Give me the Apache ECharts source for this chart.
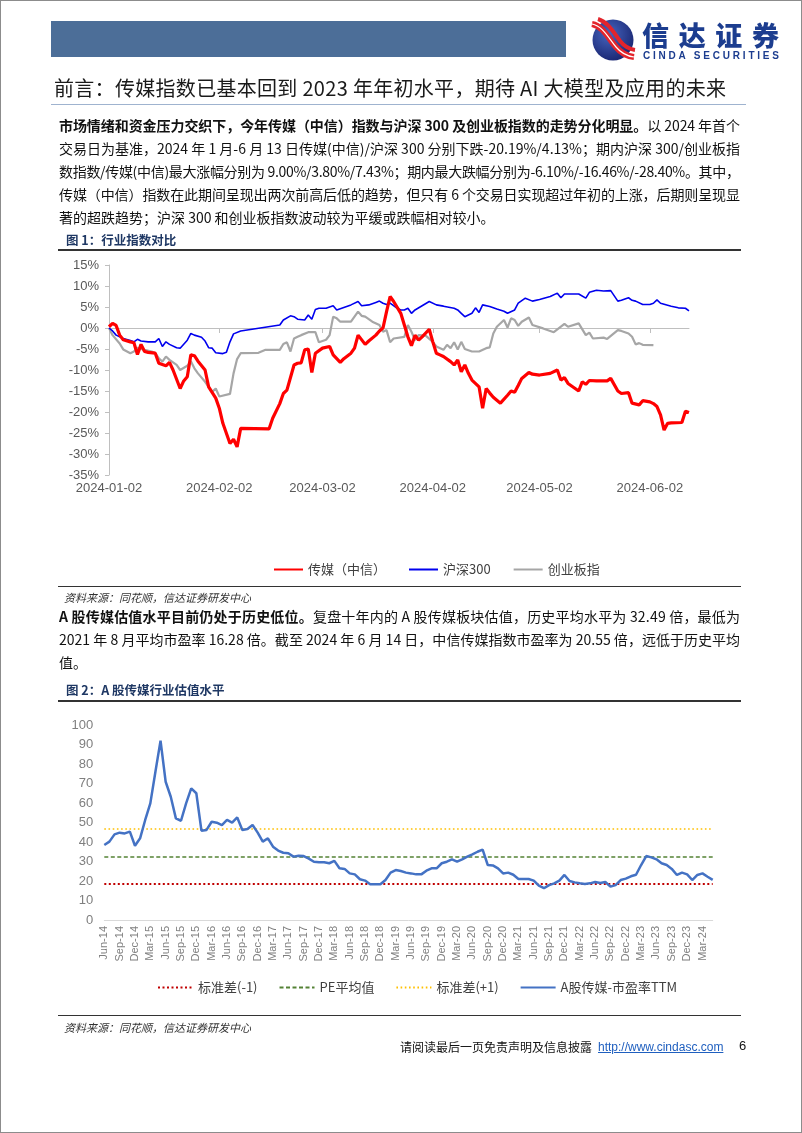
<!DOCTYPE html>
<html><head><meta charset="utf-8">
<script src="https://cdn.jsdelivr.net/npm/echarts@6/dist/echarts.min.js"></script>
<style>
html,body{margin:0;padding:0;background:#fff;}
#page{position:relative;width:802px;height:1133px;overflow:hidden;font-family:"Noto Sans CJK SC","Noto Sans",sans-serif;color:#111;}
#frame{position:absolute;left:0;top:0;width:800px;height:1131px;border:1px solid #8c8c8c;pointer-events:none;z-index:5;}
#chart{position:absolute;left:0;top:0;width:802px;height:1133px;}
.t{position:absolute;white-space:nowrap;}
.ln{position:absolute;left:59px;font-size:14px;line-height:20px;white-space:nowrap;color:#111;}
.rule{position:absolute;left:58px;width:683px;height:1px;background:#333;}
.fig{position:absolute;left:66px;font-size:12.5px;font-weight:700;color:#1f3864;line-height:17px;}
.src{position:absolute;left:64px;font-size:11px;font-style:italic;color:#333;line-height:14px;}
b{font-weight:700;}
</style></head>
<body><div id="page">
<div id="chart"></div>
<div id="frame"></div>
<!-- header -->
<div class="t" style="left:51px;top:21px;width:515px;height:36px;background:#4c6e98;"></div>
<svg class="t" style="left:589px;top:17px" width="48" height="45" viewBox="0 0 48 45">
 <defs><radialGradient id="lg" cx="40%" cy="35%" r="75%"><stop offset="0" stop-color="#4766c0"/><stop offset="1" stop-color="#15206a"/></radialGradient></defs>
 <circle cx="24" cy="23" r="20.5" fill="url(#lg)"/>
 <path d="M3 7 C 14 9, 20 22, 27 30 C 32 36, 37 39, 45 40" stroke="#e3242b" stroke-width="6" fill="none"/>
 <path d="M3 7 C 14 9, 20 22, 27 30 C 32 36, 37 39, 45 40" stroke="#fff" stroke-width="1.2" fill="none"/>
 <path d="M9 2 C 19 5, 25 16, 31 24 C 35 29, 39 32, 46 33" stroke="#e3242b" stroke-width="4" fill="none"/>
</svg>
<div class="t" id="logoCn" style="left:642px;top:20px;font-size:27px;font-weight:900;color:#1c3d8f;line-height:30px;">信达证券</div>
<div class="t" id="logoEn" style="left:643px;top:50px;font-family:'Liberation Sans',Arial,sans-serif;font-size:10px;font-weight:700;color:#1c3d8f;line-height:11px;">CINDA SECURITIES</div>
<!-- title -->
<div class="t" id="title" style="left:54px;top:76px;font-size:20px;line-height:24px;color:#1a1a1a;">前言：传媒指数已基本回到 2023 年年初水平，期待 AI 大模型及应用的未来</div>
<div class="t" style="left:51px;top:104px;width:695px;height:1px;background:#9fb3cf;"></div>
<!-- paragraph 1 -->
<div class="ln fit" style="top:115px"><b>市场情绪和资金压力交织下，今年传媒（中信）指数与沪深 300 及创业板指数的走势分化明显。</b>以 2024 年首个</div>
<div class="ln fit" style="top:138px">交易日为基准，2024 年 1 月-6 月 13 日传媒(中信)/沪深 300 分别下跌-20.19%/4.13%；期内沪深 300/创业板指</div>
<div class="ln fit" style="top:161px">数指数/传媒(中信)最大涨幅分别为 9.00%/3.80%/7.43%；期内最大跌幅分别为-6.10%/-16.46%/-28.40%。其中，</div>
<div class="ln fit" style="top:184px">传媒（中信）指数在此期间呈现出两次前高后低的趋势，但只有 6 个交易日实现超过年初的上涨，后期则呈现显</div>
<div class="ln" style="top:207px">著的超跌趋势；沪深 300 和创业板指数波动较为平缓或跌幅相对较小。</div>
<!-- figure 1 -->
<div class="fig" style="top:231px">图 1：行业指数对比</div>
<div class="rule" style="top:249px;height:1.5px;"></div>
<div class="rule" style="top:586px;"></div>
<div class="src" style="top:590px">资料来源：同花顺，信达证券研发中心</div>
<!-- paragraph 2 -->
<div class="ln fit" style="top:606px"><b>A 股传媒估值水平目前仍处于历史低位。</b>复盘十年内的 A 股传媒板块估值，历史平均水平为 32.49 倍，最低为</div>
<div class="ln fit" style="top:629px">2021 年 8 月平均市盈率 16.28 倍。截至 2024 年 6 月 14 日，中信传媒指数市盈率为 20.55 倍，远低于历史平均</div>
<div class="ln" style="top:652px">值。</div>
<!-- figure 2 -->
<div class="fig" style="top:681px">图 2：A 股传媒行业估值水平</div>
<div class="rule" style="top:700px;height:1.5px;"></div>
<div class="rule" style="top:1015px;"></div>
<div class="src" style="top:1020px">资料来源：同花顺，信达证券研发中心</div>
<!-- footer -->
<div class="t" style="left:400px;top:1039px;font-size:12px;line-height:16px;color:#111;">请阅读最后一页免责声明及信息披露</div>
<div class="t" style="left:598px;top:1039px;font-family:'Liberation Sans',Arial,sans-serif;font-size:12px;line-height:16px;color:#1f5fbf;text-decoration:underline;">http://www.cindasc.com</div>
<div class="t" style="left:739px;top:1038px;font-family:'Liberation Sans',Arial,sans-serif;font-size:13px;line-height:16px;color:#111;">6</div>
</div>
<script>
// ---------- Figure 1 data (percent change vs 2024-01-02) ----------
const fig1TickDates = ['2024-01-02','2024-02-02','2024-03-02','2024-04-02','2024-05-02','2024-06-02'];

const mediaDates = ['01-02','01-03','01-04','01-05','01-06','01-08','01-09','01-10','01-11','01-12','01-13','01-15','01-16','01-18','01-19','01-20','01-22','01-23','01-24','01-25','01-26','01-27','01-29','01-30','02-01','02-02','02-03','02-05','02-06','02-07','02-08','02-16','02-17','02-19','02-20','02-21','02-23','02-24','02-25','02-26','02-27','02-28','02-29','03-02','03-04','03-05','03-07','03-08','03-10','03-11','03-12','03-14','03-15','03-17','03-18','03-19','03-20','03-21','03-22','03-24','03-25','03-26','03-27','03-28','03-29','03-30','04-01','04-02','04-03','04-04','04-05','04-07','04-08','04-09','04-10','04-11','04-12','04-13','04-15','04-16','04-17','04-18','04-19','04-21','04-23','04-24','04-25','04-26','04-27','04-29','04-30','05-02','05-05','05-07','05-08','05-09','05-10','05-12','05-13','05-14','05-15','05-16','05-18','05-21','05-22','05-24','05-25','05-27','05-28','05-30','05-31','06-02','06-03','06-04','06-05','06-06','06-07','06-08','06-11','06-12','06-13'];
const mediaVals = [0.3,1.1,0.6,-1.7,-2.8,-3.3,-3.5,-6.3,-3.9,-5.6,-5.8,-6.0,-8.4,-9.0,-8.2,-10.0,-14.4,-12.6,-11.6,-6.4,-6.6,-7.9,-10.0,-14.0,-16.7,-19.1,-22.7,-27.5,-26.5,-28.3,-23.9,-24.0,-21.5,-18.0,-15.6,-14.8,-8.8,-8.4,-8.3,-5.2,-5.0,-10.6,-6.0,-4.8,-4.4,-6.4,-8.2,-7.3,-6.0,-4.8,-1.7,-3.9,-3.1,-1.7,-0.7,0.0,3.9,7.5,6.3,3.5,0.7,-2.1,-4.2,-1.7,-2.9,-2.1,-0.3,-3.3,-6.0,-6.4,-6.8,-8.0,-8.8,-7.6,-10.4,-8.8,-10.8,-12.4,-14.0,-19.1,-14.4,-15.5,-16.5,-17.9,-16.0,-15.0,-15.3,-13.7,-12.0,-10.6,-11.0,-11.2,-10.8,-10.0,-12.4,-11.8,-13.2,-14.4,-15.0,-12.8,-13.4,-12.5,-12.6,-12.6,-12.0,-15.0,-15.6,-15.4,-17.9,-18.3,-17.3,-17.6,-18.0,-18.7,-20.7,-24.3,-22.7,-22.6,-22.5,-19.8,-20.1];

const hs300Dates = ['01-02','01-03','01-04','01-06','01-08','01-09','01-10','01-11','01-13','01-15','01-16','01-17','01-18','01-19','01-21','01-22','01-24','01-25','01-26','01-28','01-29','01-30','01-31','02-01','02-03','02-04','02-05','02-06','02-08','02-19','02-20','02-22','02-23','02-24','02-26','02-27','02-28','02-29','03-01','03-03','03-05','03-06','03-08','03-10','03-12','03-13','03-15','03-17','03-18','03-19','03-20','03-21','03-23','03-24','03-25','03-26','03-27','03-28','03-30','04-01','04-03','04-05','04-08','04-09','04-10','04-11','04-13','04-14','04-15','04-16','04-18','04-20','04-22','04-23','04-25','04-26','04-28','04-30','05-02','05-05','05-07','05-08','05-09','05-13','05-15','05-16','05-18','05-20','05-22','05-24','05-25','05-27','05-28','05-29','05-31','06-02','06-03','06-04','06-05','06-08','06-10','06-12','06-13'];
const hs300Vals = [0,-0.7,-1.7,-2.5,-3.0,-3.3,-2.7,-3.1,-3.3,-3.3,-2.5,-4.4,-3.3,-3.9,-4.7,-4.8,-2.9,-1.3,-1.7,-2.2,-3.1,-4.7,-4.8,-5.9,-6.1,-5.8,-3.3,-1.4,-0.7,0.7,1.9,2.9,2.7,2.1,1.9,3.1,2.1,4.4,4.7,4.7,5.3,4.3,4.9,5.5,6.3,5.3,5.5,6.1,6.4,5.9,5.6,5.9,4.7,4.3,4.3,4.7,3.5,4.3,5.3,6.3,5.5,5.2,4.7,4.3,3.5,2.7,3.5,4.8,3.7,5.5,5.1,4.5,4.0,3.5,4.3,5.9,7.1,6.4,6.8,7.5,8.3,7.2,8.1,8.1,7.1,8.5,9.0,8.8,8.9,6.4,6.6,7.2,6.6,6.4,5.6,5.6,5.9,6.7,5.9,5.2,4.8,4.7,4.1];

const gemDates = ['01-02','01-03','01-05','01-06','01-08','01-09','01-10','01-12','01-14','01-15','01-16','01-17','01-18','01-19','01-21','01-22','01-24','01-25','01-26','01-27','01-29','01-30','01-31','02-01','02-02','02-05','02-06','02-07','02-08','02-13','02-15','02-19','02-20','02-21','02-22','02-23','02-24','02-25','02-27','02-29','03-01','03-03','03-04','03-05','03-06','03-07','03-10','03-12','03-13','03-14','03-16','03-18','03-19','03-20','03-21','03-22','03-25','03-26','03-27','03-28','03-29','03-31','04-02','04-03','04-05','04-06','04-07','04-08','04-09','04-10','04-11','04-13','04-15','04-17','04-18','04-19','04-20','04-22','04-23','04-24','04-25','04-26','04-27','04-29','04-30','05-03','05-06','05-09','05-10','05-13','05-15','05-16','05-17','05-20','05-21','05-24','05-25','05-27','05-28','05-29','05-30','05-31','06-03'];
const gemVals = [0,-1.7,-3.7,-5.1,-6.0,-5.6,-4.7,-5.2,-5.6,-6.0,-7.2,-8.0,-6.8,-7.6,-8.8,-10.0,-9.0,-7.9,-9.6,-10.8,-12.8,-14.0,-15.2,-14.4,-16.3,-15.7,-10.8,-7.4,-6.0,-5.9,-5.2,-5.2,-3.8,-3.4,-5.6,-2.5,-2.1,-1.7,-1.0,-1.0,-3.4,-2.8,-1.7,2.7,2.3,1.5,1.5,3.9,2.9,2.7,1.5,0.7,-0.9,-0.5,-3.4,-2.5,-2.1,0.7,-0.9,-2.9,-1.7,-1.8,-3.3,-4.4,-5.2,-4.0,-4.8,-3.4,-5.1,-3.3,-5.0,-5.6,-5.6,-4.8,-4.6,-1.3,0.3,1.9,0.1,2.3,1.9,0.5,1.5,2.5,0.7,-0.1,-1.0,1.0,0.3,1.1,-1.7,-1.1,-2.5,-2.3,-2.6,-0.5,-0.7,-1.3,-2.1,-3.9,-3.6,-4.0,-4.1];

// ---------- Figure 2 data (PE TTM, monthly) ----------
const peMonths = ['Jun-14','Jul-14','Aug-14','Sep-14','Oct-14','Nov-14','Dec-14',
'Jan-15','Feb-15','Mar-15','Apr-15','May-15','Jun-15','Jul-15','Aug-15','Sep-15','Oct-15','Nov-15','Dec-15',
'Jan-16','Feb-16','Mar-16','Apr-16','May-16','Jun-16','Jul-16','Aug-16','Sep-16','Oct-16','Nov-16','Dec-16',
'Jan-17','Feb-17','Mar-17','Apr-17','May-17','Jun-17','Jul-17','Aug-17','Sep-17','Oct-17','Nov-17','Dec-17',
'Jan-18','Feb-18','Mar-18','Apr-18','May-18','Jun-18','Jul-18','Aug-18','Sep-18','Oct-18','Nov-18','Dec-18',
'Jan-19','Feb-19','Mar-19','Apr-19','May-19','Jun-19','Jul-19','Aug-19','Sep-19','Oct-19','Nov-19','Dec-19',
'Jan-20','Feb-20','Mar-20','Apr-20','May-20','Jun-20','Jul-20','Aug-20','Sep-20','Oct-20','Nov-20','Dec-20',
'Jan-21','Feb-21','Mar-21','Apr-21','May-21','Jun-21','Jul-21','Aug-21','Sep-21','Oct-21','Nov-21','Dec-21',
'Jan-22','Feb-22','Mar-22','Apr-22','May-22','Jun-22','Jul-22','Aug-22','Sep-22','Oct-22','Nov-22','Dec-22',
'Jan-23','Feb-23','Mar-23','Apr-23','May-23','Jun-23','Jul-23','Aug-23','Sep-23','Oct-23','Nov-23','Dec-23',
'Jan-24','Feb-24','Mar-24','Apr-24','May-24'];
const peVals = [38.5,40.2,43.9,44.8,44.4,45.3,38.1,41.9,51.3,59.8,76.0,92.0,70.9,63.2,52.1,50.9,59.8,67.5,65.0,45.8,
46.2,50.4,49.9,48.7,51.3,49.9,52.6,46.2,46.7,48.7,44.8,40.2,41.9,37.6,35.6,34.5,34.2,32.5,33.0,32.8,
31.5,29.9,29.6,29.6,29.1,30.3,26.5,26.2,23.9,23.4,20.9,20.2,18.3,18.3,18.3,20.5,24.3,25.6,25.1,24.3,
23.9,23.4,23.4,25.3,26.5,26.5,29.1,29.9,31.1,29.9,31.1,32.5,33.7,35.0,36.1,28.2,28.0,26.5,23.9,24.3,
23.2,21.0,21.0,21.0,20.2,17.6,16.3,17.9,18.8,20.2,23.1,20.0,19.3,18.8,18.5,18.8,19.5,19.0,19.5,17.1,
17.9,20.5,21.2,22.4,23.2,28.2,32.8,32.1,31.1,29.1,28.2,26.2,23.1,24.3,23.4,20.5,23.1,23.9,22.2,20.6];
const peStdLow = 18.4;
const peMean = 32.49;
const peStdHigh = 46.6;

// ---------- helpers ----------
function ts(s){ const p = s.split('-').map(Number); return new Date(p[0], p[1]-1, p[2]).getTime(); }
function pairs(dates, vals){ return dates.map((d,i)=>[ts('2024-'+d), vals[i]]); }
const tickTs = fig1TickDates.map(ts);

const chart = echarts.init(document.getElementById('chart'));
const axisFont = {fontFamily:'Liberation Sans, Arial, sans-serif', fontSize:13, color:'#595959'};
const legFont = {fontFamily:'Noto Sans CJK SC, sans-serif', fontSize:13, color:'#404040'};

chart.setOption({
  animation:false,
  backgroundColor:'transparent',
  grid:[
    {left:109, top:265, width:580, height:210},
    {left:104.3, top:725, width:608.4, height:195}
  ],
  xAxis:[
    {type:'time', gridIndex:0, min:ts('2024-01-02'), max:ts('2024-06-13'),
     axisLine:{show:true, lineStyle:{color:'#bfbfbf', width:1}},
     axisTick:{show:true, length:5, customValues:tickTs, lineStyle:{color:'#bfbfbf'}},
     axisLabel:Object.assign({customValues:tickTs, formatter:'{yyyy}-{MM}-{dd}', margin:7, hideOverlap:false}, axisFont),
     splitLine:{show:false}},
    {type:'category', gridIndex:1, data:peMonths, boundaryGap:false,
     axisLine:{show:true, lineStyle:{color:'#d9d9d9', width:1}},
     axisTick:{show:false},
     axisLabel:{interval:2, rotate:90, margin:6, fontFamily:'Liberation Sans, Arial, sans-serif', fontSize:11, color:'#7f7f7f'},
     splitLine:{show:false}}
  ],
  yAxis:[
    {type:'value', gridIndex:0, min:-35, max:15, interval:5,
     axisLine:{show:true, lineStyle:{color:'#bfbfbf', width:1}},
     axisTick:{show:true, length:4, lineStyle:{color:'#bfbfbf'}},
     axisLabel:Object.assign({formatter:'{value}%', margin:10}, axisFont),
     splitLine:{show:false}},
    {type:'value', gridIndex:1, min:0, max:100, interval:10,
     axisLine:{show:false}, axisTick:{show:false},
     axisLabel:{margin:11, fontFamily:'Liberation Sans, Arial, sans-serif', fontSize:13, color:'#7f7f7f'},
     splitLine:{show:false}}
  ],
  legend:[
    {data:['传媒（中信）','沪深300','创业板指'], left:268, top:558, itemWidth:29, itemHeight:12, itemGap:22,
     itemStyle:{opacity:0}, textStyle:legFont},
    {data:['标准差(-1)','PE平均值','标准差(+1)','A股传媒-市盈率TTM'], left:152, top:976, itemWidth:35, itemHeight:12, itemGap:21,
     itemStyle:{opacity:0}, textStyle:legFont}
  ],
  series:[
    {name:'创业板指', type:'line', xAxisIndex:0, yAxisIndex:0, data:pairs(gemDates, gemVals), showSymbol:false, symbol:'none', z:2,
     lineStyle:{color:'#a6a6a6', width:2.2}, itemStyle:{color:'#a6a6a6'}},
    {name:'沪深300', type:'line', xAxisIndex:0, yAxisIndex:0, data:pairs(hs300Dates, hs300Vals), showSymbol:false, symbol:'none', z:3,
     lineStyle:{color:'#0000ee', width:1.6}, itemStyle:{color:'#0000ee'}},
    {name:'传媒（中信）', type:'line', xAxisIndex:0, yAxisIndex:0, data:pairs(mediaDates, mediaVals), showSymbol:false, symbol:'none', z:4,
     lineStyle:{color:'#ff0000', width:3.2}, itemStyle:{color:'#ff0000'}},

    {name:'标准差(-1)', type:'line', xAxisIndex:1, yAxisIndex:1, data:[], symbol:'none', z:2,
     lineStyle:{color:'#c00000', width:2, type:[2,2.5]}, itemStyle:{color:'#c00000'},
     markLine:{silent:true, symbol:'none', label:{show:false}, animation:false,
       lineStyle:{color:'#c00000', width:2, type:[2,2.5]}, data:[{yAxis:peStdLow}]}},
    {name:'PE平均值', type:'line', xAxisIndex:1, yAxisIndex:1, data:[], symbol:'none', z:2,
     lineStyle:{color:'#548235', width:1.6, type:[4,2.5]}, itemStyle:{color:'#548235'},
     markLine:{silent:true, symbol:'none', label:{show:false}, animation:false,
       lineStyle:{color:'#548235', width:1.6, type:[4,2.5]}, data:[{yAxis:peMean}]}},
    {name:'标准差(+1)', type:'line', xAxisIndex:1, yAxisIndex:1, data:[], symbol:'none', z:2,
     lineStyle:{color:'#ffc000', width:1.6, type:[1.6,2.6]}, itemStyle:{color:'#ffc000'},
     markLine:{silent:true, symbol:'none', label:{show:false}, animation:false,
       lineStyle:{color:'#ffc000', width:1.6, type:[1.6,2.6]}, data:[{yAxis:peStdHigh}]}},
    {name:'A股传媒-市盈率TTM', type:'line', xAxisIndex:1, yAxisIndex:1, data:peVals, showSymbol:false, symbol:'none', z:5,
     lineStyle:{color:'#4472c4', width:2.5}, itemStyle:{color:'#4472c4'}}
  ]
});

// justify body lines to the text block width (CJK style spacing)
function fitWidth(el, target){
  el.style.letterSpacing = '0px';
  const w = el.getBoundingClientRect().width;
  const n = el.textContent.length;
  if (n > 1) el.style.letterSpacing = ((target - w) / (n - 1)) + 'px';
}
function run(){
  document.querySelectorAll('.fit').forEach(el => fitWidth(el, 681));
  fitWidth(document.getElementById('title'), 672);
  fitWidth(document.getElementById('logoEn'), 136);
  fitWidth(document.getElementById('logoCn'), 137);
}
run();
if (document.fonts) document.fonts.ready.then(run);
</script>
</body></html>
